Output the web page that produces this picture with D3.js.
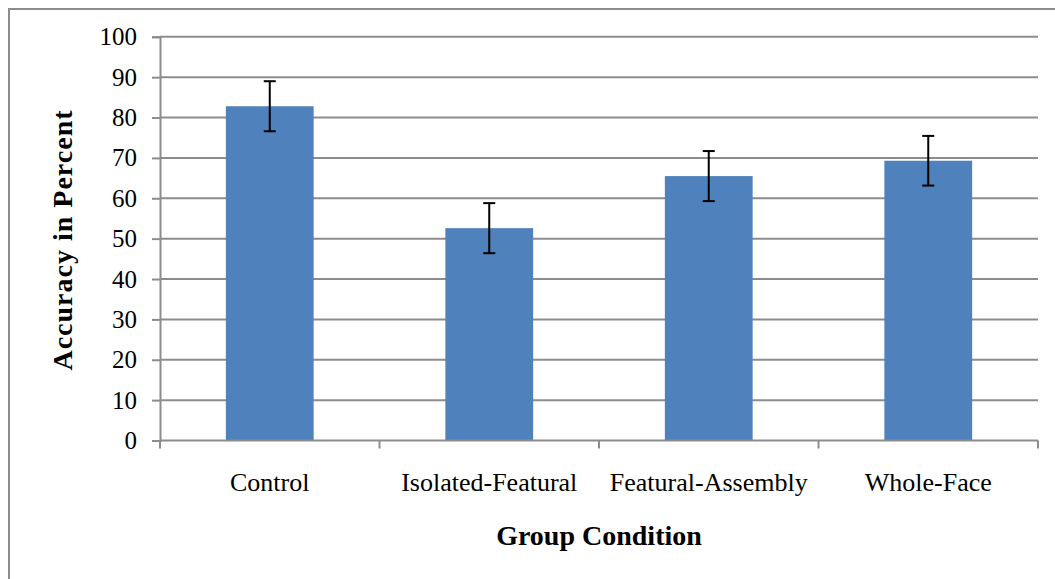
<!DOCTYPE html>
<html>
<head>
<meta charset="utf-8">
<script src="https://cdn.jsdelivr.net/npm/d3@7"></script>
<style>
  html, body { margin: 0; padding: 0; background: #fff; }
  svg { display: block; }
</style>
</head>
<body>
<svg id="chart" width="1055" height="579"></svg>
<script>
const categories = ["Control", "Isolated-Featural", "Featural-Assembly", "Whole-Face"];
const values = [82.8, 52.6, 65.5, 69.3];
const errors = [6.2, 6.2, 6.2, 6.15];
const yTicks = [0, 10, 20, 30, 40, 50, 60, 70, 80, 90, 100];
const xTitle = "Group Condition";
const yTitle = "Accuracy in Percent";

const svg = d3.select("#chart");
const W = 1055, H = 579;
const m = { left: 160, right: 17, top: 36.8, bottom: 138.5 };

svg.append("rect").attr("x", 9).attr("y", 9).attr("width", W + 10).attr("height", H + 10)
  .attr("fill", "#fff").attr("stroke", "#8c8c8c").attr("stroke-width", 2);

const x = d3.scaleBand().domain(categories).range([m.left, W - m.right]).paddingInner(0.6).paddingOuter(0.3);
const xb = d3.scaleBand().domain(categories).range([m.left, W - m.right]).padding(0);
const y = d3.scaleLinear().domain([0, 100]).range([H - m.bottom, m.top]);

const serif = "'Liberation Serif', 'Times New Roman', serif";

// gridlines
svg.append("g").selectAll("line").data(yTicks.filter(d => d > 0)).join("line")
  .attr("x1", m.left).attr("x2", W - m.right)
  .attr("y1", d => y(d)).attr("y2", d => y(d))
  .attr("stroke", "#8c8c8c").attr("stroke-width", 2);

// y axis
const yAxis = svg.append("g").attr("transform", `translate(${m.left},0)`)
  .call(d3.axisLeft(y).tickValues(yTicks).tickSize(8).tickPadding(15));
yAxis.select(".domain").attr("stroke", "#8c8c8c").attr("stroke-width", 2);
yAxis.selectAll(".tick line").attr("stroke", "#8c8c8c").attr("stroke-width", 2);
yAxis.selectAll(".tick text").attr("font-family", serif).attr("font-size", 25).attr("fill", "#000");

// bars
svg.append("g").selectAll("rect").data(categories).join("rect")
  .attr("x", d => x(d)).attr("width", x.bandwidth())
  .attr("y", (d, i) => y(values[i])).attr("height", (d, i) => y(0) - y(values[i]))
  .attr("fill", "#4f81bd");

// x axis
const xAxisG = svg.append("g").attr("transform", `translate(0,${y(0)})`);
xAxisG.append("line").attr("x1", m.left).attr("x2", W - m.right).attr("y1", 0).attr("y2", 0)
  .attr("stroke", "#8c8c8c").attr("stroke-width", 2);
const bounds = categories.map(c => xb(c)).concat([xb(categories[categories.length - 1]) + xb.bandwidth()]);
xAxisG.selectAll("line.tk").data(bounds).join("line").attr("class", "tk")
  .attr("x1", d => d).attr("x2", d => d).attr("y1", 0).attr("y2", 8)
  .attr("stroke", "#8c8c8c").attr("stroke-width", 2);
xAxisG.selectAll("text").data(categories).join("text")
  .attr("x", d => xb(d) + xb.bandwidth() / 2).attr("y", 50)
  .attr("text-anchor", "middle").attr("font-family", serif).attr("font-size", 26)
  .attr("fill", "#000").text(d => d);

// error bars
const eb = svg.append("g").attr("stroke", "#000").attr("stroke-width", 2);
categories.forEach((c, i) => {
  const cx = x(c) + x.bandwidth() / 2;
  const top = y(values[i] + errors[i]), bot = y(values[i] - errors[i]);
  eb.append("line").attr("x1", cx).attr("x2", cx).attr("y1", top).attr("y2", bot);
  eb.append("line").attr("x1", cx - 6).attr("x2", cx + 6).attr("y1", top).attr("y2", top);
  eb.append("line").attr("x1", cx - 6).attr("x2", cx + 6).attr("y1", bot).attr("y2", bot);
});

// titles
svg.append("text").attr("x", (m.left + W - m.right) / 2).attr("y", 545)
  .attr("text-anchor", "middle").attr("font-family", serif).attr("font-weight", "bold")
  .attr("font-size", 28).attr("fill", "#000").text(xTitle);
svg.append("text").attr("transform", `translate(72,240) rotate(-90)`)
  .attr("text-anchor", "middle").attr("font-family", serif).attr("font-weight", "bold")
  .attr("font-size", 28).attr("letter-spacing", 1).attr("fill", "#000").text(yTitle);
</script>
</body>
</html>
